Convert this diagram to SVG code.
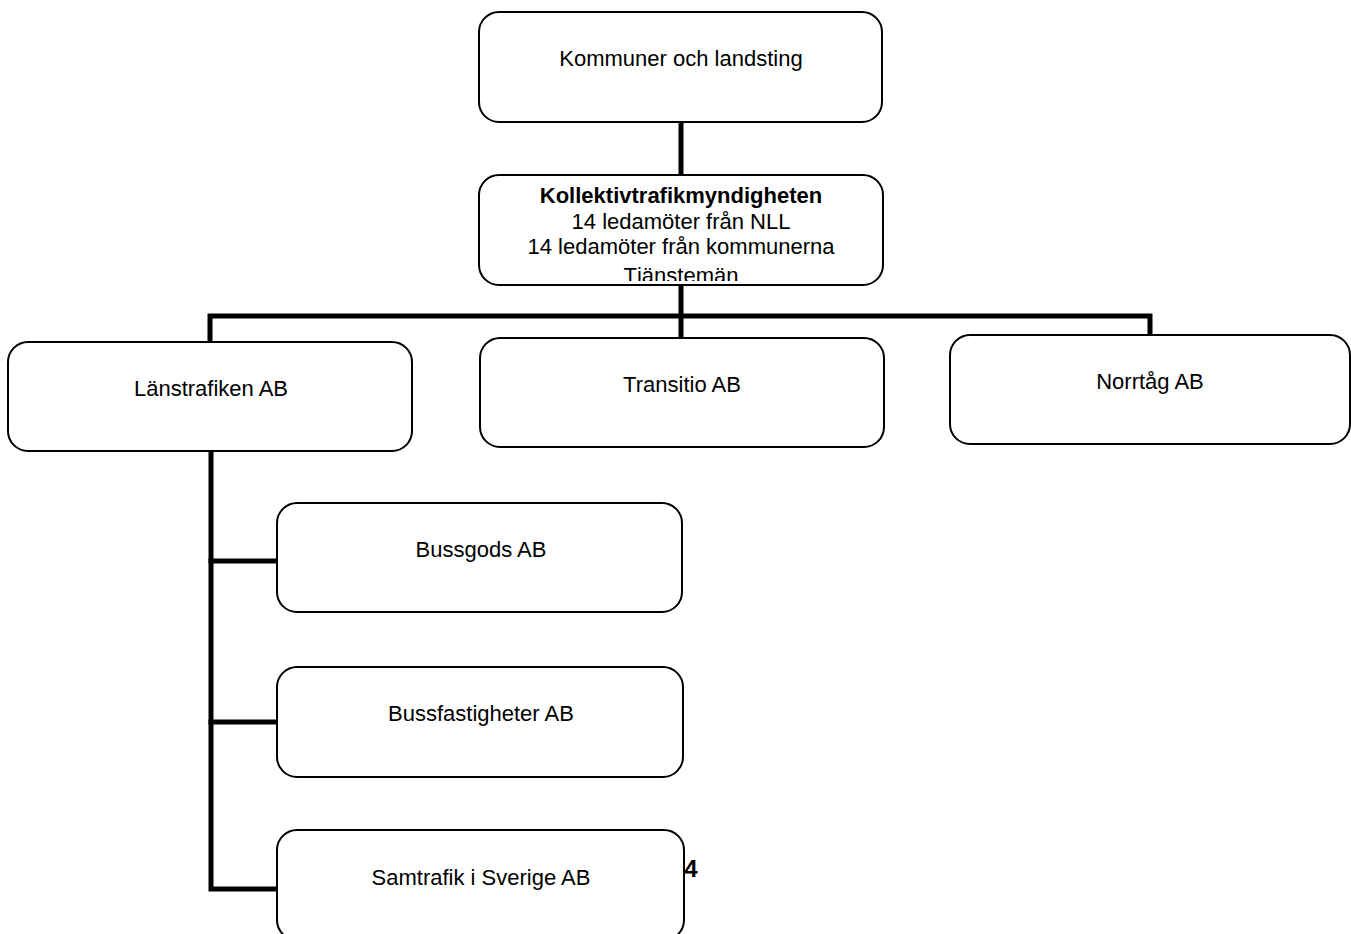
<svg xmlns="http://www.w3.org/2000/svg" width="1351" height="934" viewBox="0 0 1351 934">
<style>
.box{fill:#fff;stroke:#000;stroke-width:2}
.t{font-family:"Liberation Sans",Arial,sans-serif;font-size:22px;fill:#000;text-anchor:middle}
.b{font-weight:bold}
.c{fill:none;stroke:#000;stroke-width:5;stroke-linecap:square}
</style>
<defs>
<clipPath id="clip2"><rect x="480" y="176" width="402" height="105" rx="19"/></clipPath>
</defs>
<rect width="1351" height="934" fill="#fff"/>
<g id="connectors">
<path class="c" d="M681 122V175"/>
<path class="c" d="M681 286V338"/>
<path class="c" d="M210 341V316H1150V336"/>
<path class="c" d="M211 452V889H277"/>
<path class="c" d="M211 561H277"/>
<path class="c" d="M211 722H277"/>
</g>
<g id="kommuner">
<rect class="box" x="479" y="12" width="403" height="110" rx="20"/>
<text class="t" x="681" y="66">Kommuner och landsting</text>
</g>
<g id="kollektivtrafikmyndigheten">
<rect class="box" x="479" y="175" width="404" height="110" rx="20"/>
<g clip-path="url(#clip2)">
<text class="t b" x="681" y="203">Kollektivtrafikmyndigheten</text>
<text class="t" x="681" y="229">14 ledamöter från NLL</text>
<text class="t" x="681" y="254">14 ledamöter från kommunerna</text>
<text class="t" x="681" y="283">Tjänstemän</text>
</g>
</g>
<g id="lanstrafiken">
<rect class="box" x="8" y="342" width="404" height="109" rx="20"/>
<text class="t" x="211" y="396">Länstrafiken AB</text>
</g>
<g id="transitio">
<rect class="box" x="480" y="338" width="404" height="109" rx="20"/>
<text class="t" x="682" y="392">Transitio AB</text>
</g>
<g id="norrtag">
<rect class="box" x="950" y="335" width="400" height="109" rx="20"/>
<text class="t" x="1150" y="389">Norrtåg AB</text>
</g>
<g id="bussgods">
<rect class="box" x="277" y="503" width="405" height="109" rx="20"/>
<text class="t" x="481" y="557">Bussgods AB</text>
</g>
<g id="bussfastigheter">
<rect class="box" x="277" y="667" width="406" height="110" rx="20"/>
<text class="t" x="481" y="721">Bussfastigheter AB</text>
</g>
<g id="samtrafik">
<rect class="box" x="277" y="830" width="407" height="110" rx="20"/>
<text class="t" x="481" y="885">Samtrafik i Sverige AB</text>
</g>
<text class="t b" x="691" y="877" style="font-size:24px">4</text>
</svg>
